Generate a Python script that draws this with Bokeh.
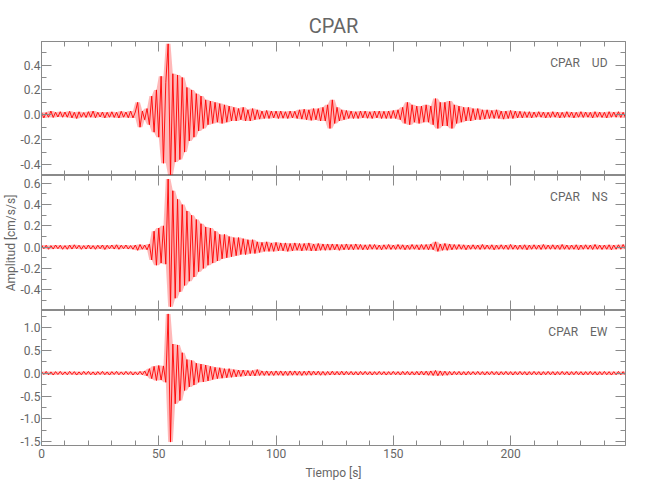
from bokeh.plotting import figure
from bokeh.layouts import column
from bokeh.models import (Range1d, LinearAxis, Label, SingleIntervalTicker,
                          PrintfTickFormatter, CustomLabelingPolicy)
from bokeh.embed import file_html
from bokeh.resources import INLINE

# ---------------- data ----------------
station = "CPAR"
components = ["UD", "NS", "EW"]
x_label = "Tiempo [s]"
y_label = "Amplitud [cm/s/s]"
dt = 1.0  # seconds between listed extremes

ud = [0.02,-0.025,0.018,-0.02,0.03,-0.022,0.02,-0.018,0.025,-0.02,
      0.022,-0.02,0.028,-0.025,0.02,-0.03,0.024,-0.02,0.018,-0.022,
      0.025,-0.02,0.03,-0.024,0.02,-0.018,0.022,-0.025,0.02,-0.02,
      0.024,-0.022,0.02,-0.026,0.028,-0.02,0.022,-0.024,0.03,-0.025,
      0.022,0.1,-0.1,0.03,-0.04,0.05,-0.08,0.15,-0.14,0.2,
      -0.18,0.31,-0.39,0.26,0.57,-0.49,0.33,-0.38,0.32,-0.36,
      0.3,-0.3,0.22,-0.21,0.2,-0.18,0.17,-0.13,0.15,-0.11,
      0.12,-0.08,0.11,-0.07,0.1,-0.06,0.09,-0.07,0.08,-0.06,
      0.07,-0.05,0.06,-0.05,0.05,-0.04,0.06,-0.05,0.04,-0.05,
      0.05,-0.04,0.04,-0.035,0.03,-0.03,0.035,-0.03,0.03,-0.025,
      0.03,-0.03,0.03,-0.028,0.025,-0.03,0.03,-0.025,0.028,-0.03,
      0.04,-0.035,0.045,-0.04,0.04,-0.045,0.05,-0.04,0.05,-0.05,
      0.06,-0.05,0.08,-0.11,0.12,-0.07,0.06,-0.05,0.04,-0.04,
      0.035,-0.03,0.03,-0.03,0.025,-0.03,0.03,-0.025,0.03,-0.028,
      0.025,-0.03,0.03,-0.025,0.03,-0.03,0.028,-0.03,0.03,-0.03,
      0.035,-0.03,0.04,-0.04,0.06,-0.07,0.1,-0.08,0.08,-0.06,
      0.07,-0.07,0.07,-0.06,0.08,-0.06,0.07,-0.08,0.13,-0.11,
      0.1,-0.09,0.1,-0.09,0.11,-0.11,0.08,-0.07,0.07,-0.06,
      0.06,-0.05,0.06,-0.05,0.05,-0.04,0.05,-0.04,0.04,-0.035,
      0.04,-0.03,0.035,-0.03,0.04,-0.03,0.03,-0.035,0.03,-0.03,
      0.035,-0.03,0.03,-0.025,0.028,-0.025,0.025,-0.022,0.025,-0.025,
      0.022,-0.02,0.025,-0.02,0.022,-0.025,0.02,-0.022,0.025,-0.02,
      0.022,-0.025,0.02,-0.022,0.025,-0.02,0.022,-0.025,0.02,-0.02,
      0.025,-0.022,0.022,-0.02,0.02,-0.025,0.025,-0.02,0.022,-0.022,
      0.02,-0.025,0.025,-0.02,0.022,-0.02,0.025,-0.022,0.02,-0.025]

ns = [0.02,-0.015,0.018,-0.02,0.015,-0.018,0.02,-0.015,0.018,-0.02,
      0.015,-0.02,0.02,-0.018,0.022,-0.015,0.018,-0.02,0.015,-0.018,
      0.02,-0.018,0.015,-0.02,0.018,-0.015,0.02,-0.022,0.018,-0.015,
      0.02,-0.018,0.022,-0.02,0.018,-0.015,0.02,-0.018,0.015,-0.02,
      0.02,-0.03,0.025,-0.02,0.02,-0.025,0.03,-0.12,0.15,-0.17,
      0.18,-0.15,0.2,-0.16,0.64,-0.56,0.53,-0.48,0.45,-0.42,
      0.4,-0.36,0.34,-0.32,0.3,-0.28,0.26,-0.23,0.22,-0.2,
      0.19,-0.17,0.18,-0.15,0.15,-0.13,0.12,-0.11,0.12,-0.1,
      0.1,-0.09,0.09,-0.08,0.09,-0.07,0.08,-0.07,0.07,-0.06,
      0.07,-0.06,0.05,-0.05,0.045,-0.04,0.05,-0.04,0.04,-0.04,
      0.045,-0.035,0.04,-0.035,0.04,-0.04,0.035,-0.035,0.04,-0.03,
      0.035,-0.035,0.035,-0.03,0.04,-0.035,0.03,-0.035,0.035,-0.03,
      0.03,-0.03,0.03,-0.028,0.03,-0.025,0.028,-0.03,0.025,-0.025,
      0.03,-0.025,0.025,-0.025,0.03,-0.022,0.025,-0.025,0.022,-0.025,
      0.025,-0.02,0.025,-0.022,0.02,-0.025,0.022,-0.02,0.025,-0.022,
      0.02,-0.022,0.025,-0.02,0.022,-0.025,0.02,-0.022,0.025,-0.02,
      0.022,-0.025,0.025,-0.022,0.025,-0.025,0.03,-0.025,0.05,-0.04,
      0.03,-0.03,0.035,-0.03,0.03,-0.025,0.025,-0.022,0.025,-0.02,
      0.022,-0.025,0.02,-0.02,0.022,-0.02,0.02,-0.022,0.025,-0.02,
      0.02,-0.02,0.022,-0.025,0.02,-0.02,0.022,-0.02,0.02,-0.022,
      0.025,-0.02,0.02,-0.022,0.02,-0.02,0.022,-0.025,0.02,-0.02,
      0.022,-0.02,0.02,-0.022,0.025,-0.02,0.02,-0.02,0.022,-0.02,
      0.02,-0.022,0.025,-0.02,0.02,-0.022,0.02,-0.02,0.022,-0.025,
      0.02,-0.02,0.022,-0.02,0.02,-0.022,0.025,-0.02,0.02,-0.022,
      0.02,-0.02,0.022,-0.025,0.02,-0.02,0.022,-0.02,0.025,-0.02]

ew = [0.035,-0.03,0.04,-0.035,0.03,-0.04,0.035,-0.03,0.04,-0.035,
      0.03,-0.035,0.04,-0.03,0.035,-0.04,0.03,-0.035,0.04,-0.03,
      0.04,-0.035,0.03,-0.04,0.035,-0.03,0.04,-0.035,0.03,-0.04,
      0.035,-0.03,0.04,-0.035,0.03,-0.035,0.04,-0.03,0.035,-0.04,
      0.03,-0.035,0.04,-0.035,0.05,-0.06,0.1,-0.12,0.15,-0.16,
      0.17,-0.15,0.16,-0.2,1.3,-1.51,0.64,-0.67,0.62,-0.6,
      0.45,-0.38,0.3,-0.3,0.28,-0.26,0.22,-0.2,0.2,-0.19,
      0.18,-0.17,0.15,-0.14,0.13,-0.12,0.12,-0.11,0.1,-0.1,
      0.1,-0.09,0.08,-0.08,0.07,-0.07,0.07,-0.06,0.06,-0.06,
      0.06,-0.06,0.08,-0.05,0.05,-0.05,0.05,-0.05,0.045,-0.05,
      0.05,-0.045,0.05,-0.05,0.045,-0.05,0.05,-0.045,0.05,-0.045,
      0.045,-0.05,0.045,-0.045,0.05,-0.045,0.045,-0.04,0.045,-0.045,
      0.04,-0.045,0.04,-0.04,0.045,-0.04,0.04,-0.04,0.045,-0.04,
      0.04,-0.035,0.04,-0.04,0.035,-0.04,0.04,-0.035,0.04,-0.035,
      0.035,-0.04,0.035,-0.035,0.04,-0.035,0.035,-0.04,0.035,-0.035,
      0.04,-0.035,0.035,-0.04,0.04,-0.035,0.04,-0.04,0.035,-0.04,
      0.04,-0.04,0.045,-0.04,0.045,-0.045,0.05,-0.05,0.06,-0.055,
      0.05,-0.05,0.045,-0.045,0.04,-0.04,0.04,-0.035,0.04,-0.04,
      0.035,-0.04,0.04,-0.035,0.035,-0.035,0.04,-0.035,0.035,-0.04,
      0.035,-0.035,0.04,-0.035,0.035,-0.04,0.035,-0.035,0.04,-0.035,
      0.035,-0.04,0.035,-0.035,0.04,-0.035,0.035,-0.04,0.035,-0.035,
      0.04,-0.035,0.035,-0.04,0.035,-0.035,0.04,-0.035,0.035,-0.04,
      0.035,-0.035,0.04,-0.035,0.035,-0.04,0.035,-0.035,0.04,-0.035,
      0.035,-0.04,0.035,-0.035,0.04,-0.035,0.035,-0.04,0.035,-0.035,
      0.04,-0.035,0.035,-0.04,0.035,-0.035,0.04,-0.035,0.035,-0.04]

series = [ud, ns, ew]
x_limits = (0, 249)
y_limits = [(-0.488, 0.589), (-0.595, 0.673), (-1.585, 1.375)]
y_tick_step = [0.2, 0.2, 0.5]
x_tick_step = 50

# ---------------- styling ----------------
FONT = "Roboto"
TXT = "#666666"
AX = "#8a8a8a"
RED = "#ff0000"
FW = 584
FH = [134, 135, 135]
LEFT = 37

no_labels = CustomLabelingPolicy(code="""
const ids = Array.from(indices.ones());
for (const i of ids) { indices.unset(i); }
return indices;
""")

xr = Range1d(*x_limits)
figs = []
for i, (vals, comp) in enumerate(zip(series, components)):
    last = i == 2
    p = figure(frame_width=FW, frame_height=FH[i], x_range=xr,
               y_range=Range1d(*y_limits[i]),
               output_backend="svg", toolbar_location=None,
               min_border_left=LEFT, min_border_right=14,
               min_border_top=41 if i == 0 else 0,
               min_border_bottom=40 if last else 0)
    p.xgrid.visible = False
    p.ygrid.visible = False
    p.outline_line_color = AX
    p.background_fill_color = "white"
    p.border_fill_color = "white"

    t = [k * dt for k in range(len(vals))]
    n = len(vals)
    upper = [max(vals[max(0, k - 1):k + 2]) for k in range(n)]
    lower = [min(vals[max(0, k - 1):k + 2]) for k in range(n)]
    p.varea(x=t, y1=lower, y2=upper, fill_color=RED, fill_alpha=0.28)
    p.line(t, vals, line_color=RED, line_width=1, line_alpha=0.9)

    # axes
    p.add_layout(LinearAxis(), "above")
    p.add_layout(LinearAxis(), "right")
    for ax in p.xaxis:
        ax.ticker = SingleIntervalTicker(interval=x_tick_step, num_minor_ticks=5)
        ax.formatter = PrintfTickFormatter(format="%d")
    for ax in p.yaxis:
        ax.ticker = SingleIntervalTicker(interval=y_tick_step[i], num_minor_ticks=2)
        ax.formatter = PrintfTickFormatter(format="%.1f")
    for ax in list(p.xaxis) + list(p.yaxis):
        ax.axis_line_color = AX
        ax.major_tick_line_color = AX
        ax.minor_tick_line_color = AX
        ax.major_tick_in = 10
        ax.major_tick_out = 0
        ax.minor_tick_in = 5
        ax.minor_tick_out = 0
        ax.major_label_text_font = FONT
        ax.major_label_text_color = TXT
        ax.major_label_text_font_size = "12px"
        ax.axis_label_text_font = FONT
        ax.axis_label_text_color = TXT
        ax.axis_label_text_font_style = "normal"
        ax.axis_label_text_font_size = "12px"
    hidden = [p.above[0], p.right[0]]
    if not last:
        hidden.append(p.below[0])
    for ax in hidden:
        ax.major_label_policy = no_labels
        ax.major_label_text_font_size = "0px"
        ax.major_label_standoff = 0
    p.left[0].major_label_standoff = 1
    if last:
        p.below[0].major_label_standoff = 3
        p.below[0].axis_label = x_label
        p.below[0].axis_label_standoff = 5
    if i == 1:
        p.left[0].axis_label = y_label
        p.left[0].axis_label_standoff = 0

    p.add_layout(Label(x=FW - 18, y=FH[i] - 21, x_units="screen", y_units="screen",
                       text=f"{station}\u00a0\u00a0\u00a0\u00a0{comp}",
                       text_align="right", text_baseline="middle",
                       text_font=FONT, text_font_size="12px", text_color=TXT))
    if i == 0:
        p.title.text = station
        p.title.align = "center"
        p.title.text_font = FONT
        p.title.text_font_size = "20px"
        p.title.text_font_style = "normal"
        p.title.text_color = TXT
        p.title.standoff = 8
    figs.append(p)

layout = column(*figs, spacing=0)
open("out.html", "w").write(file_html(layout, INLINE))
